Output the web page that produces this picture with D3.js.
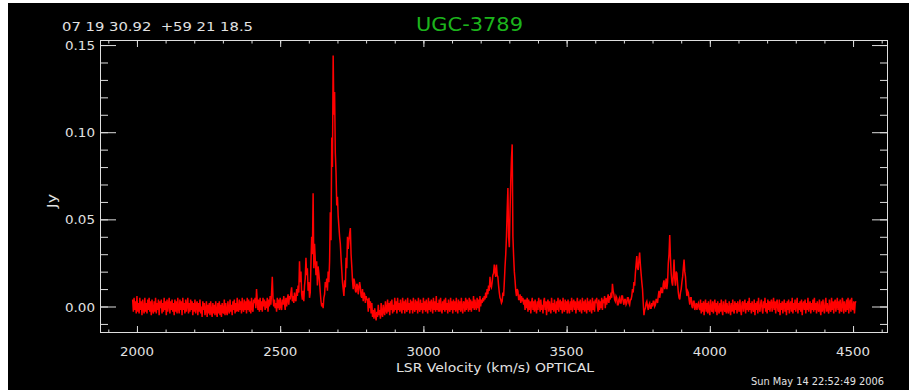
<!DOCTYPE html>
<html><head><meta charset="utf-8">
<script src="https://cdn.jsdelivr.net/npm/d3@7"></script>
<style>html,body{margin:0;padding:0;background:#fff;} svg{display:block}</style>
</head><body>
<svg id="chart" width="909" height="390"></svg>
<script>
// ---- texts ----
const titleText = "UGC-3789";
const coordText = "07 19 30.92  +59 21 18.5";
const dateText = "Sun May 14 22:52:49 2006";
const xAxisTitle = "LSR Velocity (km/s) OPTICAL";
const yAxisTitle = "Jy";

// ---- ticks ----
const xTickValues = [2000, 2500, 3000, 3500, 4000, 4500];
const xTickLabels = ["2000", "2500", "3000", "3500", "4000", "4500"];
const xMinorTicks = [1900,2000,2100,2200,2300,2400,2500,2600,2700,2800,2900,3000,3100,3200,3300,3400,3500,3600,3700,3800,3900,4000,4100,4200,4300,4400,4500,4600];
const yTickValues = [0.00, 0.05, 0.10, 0.15];
const yTickLabels = ["0.00", "0.05", "0.10", "0.15"];
const yMinorTicks = [-0.01,0.00,0.01,0.02,0.03,0.04,0.05,0.06,0.07,0.08,0.09,0.10,0.11,0.12,0.13,0.14,0.15];

// ---- spectrum: channel blocks (start velocity, km/s) and flux (mJy) ----
const channelWidth = 2.5;
const blockStarts = [1985, 2485, 2805, 3205, 3355, 3655, 3965];
const flux1 = [
 4,-3,5,-2,3,-4,6,-3,2,-4,
 5,-2,3,-5,4,-1,-4,5,-3,2,
 -4,4,-2,5,-3,3,-5,4,-2,-4,
 3,-3,5,-4,2,-2,4,-5,3,-1,
 4,-4,2,-3,5,-2,3,-5,4,-3,
 1,5,-4,3,-2,4,-3,2,-5,4,
 -3,3,-4,5,-1,-4,4,-2,3,-5,
 5,-2,2,-4,4,-3,1,5,-4,2,
 -3,4,-2,3,-5,2,-3,4,-4,1,
 3,-5,2,-3,4,-4,0,-6,3,-2,
 2,-5,-2,3,-6,1,-4,2,-5,3,
 -3,-6,2,-4,1,-5,3,-3,-6,2,
 -4,3,-5,1,-6,2,-3,-4,4,-5,
 2,-3,-5,3,-2,-4,4,-3,1,-5,
 3,-2,4,-4,2,-3,5,-2,-3,4,
 -2,3,-4,5,-1,-3,4,-2,3,-4,
 5,-2,4,-3,3,-4,5,-1,-3,4,
 2,5,-1,10,3,-2,4,-3,5,-2,
 3,-3,5,0,4,-2,3,-1,5,-3,
 4,0,6,1,8,17,5,0,4,-1];
const flux2 = [
 2,-3,5,-1,4,-2,5,0,-2,4,
 1,6,2,-2,5,0,4,7,1,6,
 4,8,11,3,6,2,8,4,3,10,
 6,12,8,26,14,20,7,4,9,3,
 12,16,28,18,22,9,14,5,8,25,
 40,30,65,22,36,27,18,26,12,23,
 19,14,8,3,0,2,-1,5,7,14,
 11,16,9,20,14,26,54,38,97,80,
 144,110,123,88,77,58,63,52,46,40,
 36,28,21,14,10,6,15,11,28,22,
 40,33,38,42,45,30,23,15,10,16,
 14,9,8,13,12,7,11,14,11,6,
 5,10,3,8,7,2,6,4];
const flux3 = [
 4,-3,5,-1,3,-4,2,-6,-2,-7,
 -1,-5,-8,-3,-6,1,-5,-2,-7,2,
 -4,-6,1,-3,-5,3,-2,-4,4,-3,
 2,-5,3,-2,4,-4,1,-3,5,-2,
 3,-4,5,-2,2,-3,4,-1,-4,5,
 -2,3,-4,4,-1,-3,5,-2,2,-4,
 4,-2,3,-4,5,-1,-3,4,-2,3,
 -4,5,-1,-3,4,-2,2,-4,5,-2,
 3,-3,4,-1,-4,5,-2,3,-3,4,
 1,-4,5,-2,3,-3,6,-2,2,-3,
 4,-3,5,-1,-4,3,-2,4,-3,5,
 -2,2,-4,4,-1,-3,5,-2,3,-4,
 4,-2,3,-3,5,-1,-4,4,-2,3,
 -3,5,-1,-4,3,2,-3,5,-2,4,
 1,-3,5,-2,4,-3,3,-1,6,-2,
 4,0,-2,5,-1,4,-3,6,0,4];
const flux4 = [
 2,5,3,6,4,8,5,10,7,12,
 9,17,12,11,14,18,19,24,20,17,
 24,18,17,12,8,5,4,2,3,8,
 6,14,23,30,40,55,68,40,34,55,
 72,85,93,40,29,20,15,9,6,10,
 9,4,4,7,2,6,3,5,1,4];
const flux5 = [
 -2,4,-1,5,-3,4,-2,3,-4,2,
 5,-2,3,-3,4,-1,-4,3,-2,5,
 2,-3,4,-2,1,-4,3,5,-2,3,
 -5,2,4,-3,3,-1,-4,5,-2,2,
 -3,4,-1,-4,3,-2,5,-3,2,4,
 -2,3,-4,5,-1,-3,4,-2,3,-4,
 4,-1,-4,3,-2,5,-3,2,4,-2,
 3,-4,1,5,-2,3,-3,4,-1,-4,
 5,-2,3,-3,4,-1,-4,5,-2,3,
 -3,4,-1,-4,5,-2,3,-3,4,2,
 5,0,-3,4,-2,3,-1,5,-2,4,
 2,6,-1,5,1,4,7,2,6,4];
const flux6 = [
 8,5,13,9,7,4,3,6,5,1,
 1,4,5,2,2,6,6,3,1,4,
 4,1,2,5,5,2,1,4,4,6,
 10,8,14,12,19,24,29,22,21,27,
 31,24,19,14,10,2,-5,-2,-1,2,
 3,0,-2,1,2,-1,-1,2,0,3,
 3,0,1,4,4,2,6,9,5,8,
 11,8,8,13,15,10,12,16,10,14,
 25,30,41,28,19,14,12,18,27,16,
 12,20,19,13,8,5,4,8,10,14,
 17,22,27,20,17,10,6,9,8,4,
 1,5,5,0,-1,3,3,-2,0,2,
 -2,1,2,-1];
const flux7 = [
 -2,4,-4,2,-3,3,-5,1,4,-3,
 2,-4,3,-2,-5,4,-1,-3,3,-4,
 1,4,-3,2,-5,3,-2,-4,2,-3,
 4,-2,-5,3,-1,-3,4,-4,2,-2,
 -4,3,-1,-5,2,-3,4,-2,-4,3,
 -2,2,-4,3,-1,-3,4,-2,-5,2,
 3,-3,1,4,-4,2,-2,3,-3,5,
 -2,2,-4,3,-1,-3,4,-5,2,-2,
 3,-4,5,-1,-3,2,4,-2,-4,3,
 -1,5,-3,2,-4,4,-2,3,-3,2,
 4,-3,1,5,-2,3,-4,2,4,-2,
 -3,4,-5,2,-2,3,-4,1,4,-3,
 2,-5,3,-2,4,-4,1,3,-3,5,
 -4,2,-2,4,-3,1,5,-4,2,-2,
 3,-3,4,-5,1,3,-2,4,-4,2,
 -2,5,-3,1,3,-4,2,-2,4,-3,
 5,-2,2,-4,3,-1,-3,4,-2,-5,
 3,-3,4,-1,-4,2,5,-3,2,-2,
 -4,4,-1,-3,5,-2,3,-4,2,4,
 -3,1,5,-2,3,-4,4,-2,-3,5,
 2,-4,3,-1,-3,4,-2,5,-4,2,
 4,-3,5,-1,-2,3,-4,2,3];
const fluxBlocks = [flux1, flux2, flux3, flux4, flux5, flux6, flux7];

const spectrum = [];
fluxBlocks.forEach((blk, b) => blk.forEach((f, i) => spectrum.push({v: blockStarts[b] + i * channelWidth, jy: f / 1000})));

// ---- layout ----
const W = 909, H = 390;
const mLeft = 100, mRight = 888, mTop = 40, mBottom = 333;
const axisCol = "#dedede", textCol = "#e2e2e2";
const font = "'DejaVu Sans', sans-serif";

const svg = d3.select("#chart");
svg.append("rect").attr("x", 8).attr("y", 3).attr("width", W - 8).attr("height", H - 3).attr("fill", "#000");

const x = d3.scaleLinear().domain([1871, 4622]).range([mLeft, mRight]);
const y = d3.scaleLinear().domain([-0.0152, 0.1529]).range([mBottom, mTop]);

// clip
svg.append("clipPath").attr("id", "clip").append("rect")
  .attr("x", mLeft).attr("y", mTop).attr("width", mRight - mLeft).attr("height", mBottom - mTop);

// spectrum line
const line = d3.line().x(d => x(d.v)).y(d => y(d.jy));
svg.append("path").datum(spectrum)
  .attr("clip-path", "url(#clip)")
  .attr("fill", "none").attr("stroke", "#ff0000").attr("stroke-width", 1.5)
  .attr("stroke-linejoin", "miter")
  .attr("d", line);

// axes via d3 axis generators (ticks inside)
const xMajorLen = 7, xMinorLen = 3.5, yMajorLen = 16, yMinorLen = 8;
function styleAxis(g) {
  g.select(".domain").remove();
  g.selectAll("line").attr("stroke", axisCol).attr("stroke-width", 1);
  g.selectAll("text").remove();
}
// bottom
svg.append("g").attr("transform", `translate(0,${mBottom})`)
  .call(d3.axisTop(x).tickValues(xMinorTicks).tickSize(xMinorLen)).call(styleAxis);
svg.append("g").attr("transform", `translate(0,${mBottom})`)
  .call(d3.axisTop(x).tickValues(xTickValues).tickSize(xMajorLen)).call(styleAxis);
// top
svg.append("g").attr("transform", `translate(0,${mTop})`)
  .call(d3.axisBottom(x).tickValues(xMinorTicks).tickSize(xMinorLen)).call(styleAxis);
svg.append("g").attr("transform", `translate(0,${mTop})`)
  .call(d3.axisBottom(x).tickValues(xTickValues).tickSize(xMajorLen)).call(styleAxis);
// left
svg.append("g").attr("transform", `translate(${mLeft},0)`)
  .call(d3.axisRight(y).tickValues(yMinorTicks).tickSize(yMinorLen)).call(styleAxis);
svg.append("g").attr("transform", `translate(${mLeft},0)`)
  .call(d3.axisRight(y).tickValues(yTickValues).tickSize(yMajorLen)).call(styleAxis);
// right
svg.append("g").attr("transform", `translate(${mRight},0)`)
  .call(d3.axisLeft(y).tickValues(yMinorTicks).tickSize(yMinorLen)).call(styleAxis);
svg.append("g").attr("transform", `translate(${mRight},0)`)
  .call(d3.axisLeft(y).tickValues(yTickValues).tickSize(yMajorLen)).call(styleAxis);

// frame
svg.append("rect").attr("x", mLeft + 0.5).attr("y", mTop + 0.5)
  .attr("width", mRight - mLeft - 1).attr("height", mBottom - mTop - 1)
  .attr("fill", "none").attr("stroke", axisCol).attr("stroke-width", 1);

// tick labels
svg.append("g").selectAll("text").data(xTickValues).join("text")
  .attr("x", d => x(d)).attr("y", 355.5)
  .attr("text-anchor", "middle").attr("font-family", font).attr("font-size", 13)
  .attr("fill", textCol).attr("textLength", 34).attr("lengthAdjust", "spacingAndGlyphs")
  .text((d, i) => xTickLabels[i]);
svg.append("g").selectAll("text").data(yTickValues).join("text")
  .attr("x", 95).attr("y", d => y(d) + 5)
  .attr("text-anchor", "end").attr("font-family", font).attr("font-size", 13)
  .attr("fill", textCol).attr("textLength", 30).attr("lengthAdjust", "spacingAndGlyphs")
  .text((d, i) => yTickLabels[i]);

// axis titles
svg.append("text").attr("x", 495).attr("y", 372).attr("text-anchor", "middle")
  .attr("font-family", font).attr("font-size", 13).attr("fill", textCol)
  .attr("textLength", 198).attr("lengthAdjust", "spacingAndGlyphs").text(xAxisTitle);
svg.append("text").attr("transform", "translate(56,201) rotate(-90)").attr("text-anchor", "middle")
  .attr("font-family", font).attr("font-size", 13).attr("fill", textCol)
  .attr("textLength", 14).attr("lengthAdjust", "spacingAndGlyphs").text(yAxisTitle);

// header texts
svg.append("text").attr("x", 62).attr("y", 31).style("white-space", "pre")
  .attr("font-family", font).attr("font-size", 13).attr("fill", textCol)
  .attr("textLength", 191).attr("lengthAdjust", "spacingAndGlyphs").text(coordText);
svg.append("text").attr("x", 416).attr("y", 31)
  .attr("font-family", font).attr("font-size", 19).attr("fill", "#1cb41c")
  .attr("textLength", 107).attr("lengthAdjust", "spacingAndGlyphs").text(titleText);
svg.append("text").attr("x", 884).attr("y", 385).attr("text-anchor", "end")
  .attr("font-family", font).attr("font-size", 10).attr("fill", textCol)
  .attr("textLength", 133).attr("lengthAdjust", "spacingAndGlyphs").text(dateText);
</script>
</body></html>
